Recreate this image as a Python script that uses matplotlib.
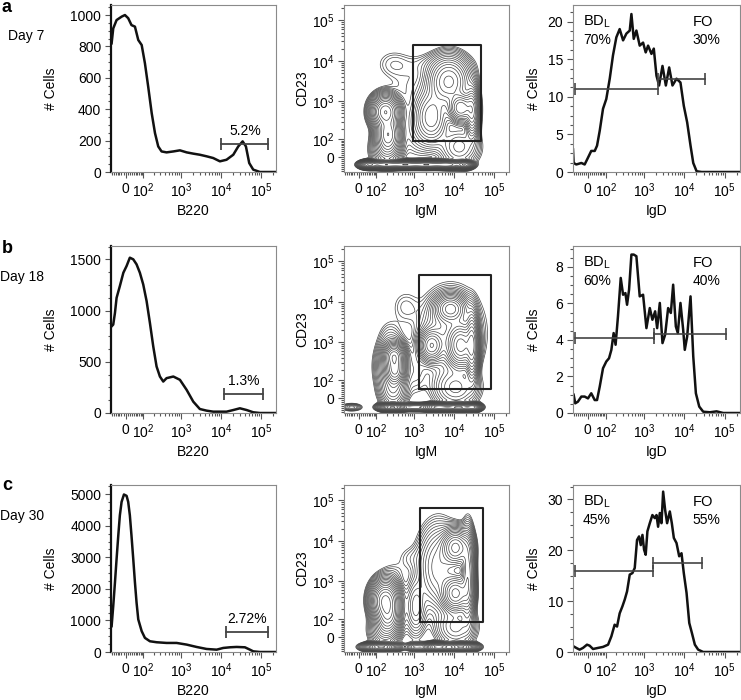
import numpy as np
import matplotlib
matplotlib.use("Agg")
import matplotlib.pyplot as plt
from matplotlib.ticker import FixedLocator, AutoMinorLocator, NullFormatter

plt.rcParams['font.family'] = ['Liberation Sans', 'DejaVu Sans']
plt.rcParams['mathtext.fontset'] = 'custom'
plt.rcParams['mathtext.rm'] = 'Liberation Sans'
plt.rcParams['mathtext.it'] = 'Liberation Sans:italic'
plt.rcParams['mathtext.bf'] = 'Liberation Sans:bold'
plt.rcParams['font.size'] = 10

W = 82.0            # linear width of the biexponential-like axis
LIM = (-78, 2.4e5)  # fluorescence range shown

days = ['Day 7', 'Day 18', 'Day 30']
panel_letters = ['a', 'b', 'c']

# ---- B220 histograms (column 1) ----
b220_x = [
    [-74, -64, -45, -19, -3.5, 12, 28, 46, 65, 87, 111, 139, 175, 215, 262, 320, 430, 639, 936, 1385,
     2025, 2960, 4370, 6400, 9430, 13800, 20400, 27200, 35000, 42300, 51200, 64500, 95000, 240000],
    [-74, -64, -54, -45, -28, -11, 4.4, 20, 37, 55, 75, 98, 125, 156, 193, 237, 290, 354, 430, 639,
     936, 1385, 2025, 2960, 4370, 6400, 9430, 13800, 20400, 29900, 44100, 64500, 95000, 240000],
    [-74, -64, -54, -45, -36, -28, -19.5, -8.2, 4.4, 12, 20, 28, 37, 46, 55, 65, 87, 111, 156, 237,
     430, 773, 1385, 2450, 4370, 7810, 11400, 16800, 24700, 39900, 53300, 64500, 95000, 240000],
]
b220_y = [
    [820, 915, 968, 990, 1000, 980, 936, 926, 841, 809, 693, 545, 375, 248, 163, 131, 125, 131, 138, 125,
     117, 110, 100, 89, 68, 78, 110, 163, 195, 163, 57, 15, 0, 0],
    [846, 863, 977, 1124, 1239, 1369, 1435, 1516, 1500, 1451, 1369, 1255, 1092, 879, 650, 454, 356, 307, 340, 356,
     324, 225, 111, 39, 23, 13, 13, 13, 29, 46, 29, 7, 0, 0],
    [819, 1457, 2202, 2947, 3691, 4330, 4755, 4989, 4947, 4755, 4330, 3691, 2947, 2202, 1564, 1032, 660, 447, 340, 309,
     287, 287, 234, 160, 96, 74, 128, 149, 160, 149, 74, 21, 0, 0],
]
b220_ylim = [1064, 1630, 5290]
b220_yticks = [[0, 200, 400, 600, 800, 1000], [0, 500, 1000, 1500], [0, 1000, 2000, 3000, 4000, 5000]]
b220_gate = [(10300, 154000, 180), (11900, 115000, 186), (13100, 154000, 638)]
b220_pct = ['5.2%', '1.3%', '2.72%']

# ---- IgD histograms (column 3) ----
igd_x = [
    [-78, -74, -58, -31, -15, 0.6, 16, 33, 45, 60, 80, 103, 131, 162, 200, 245, 300, 365, 443, 488,
     558, 650, 787, 954, 1108, 1270, 1540, 1760, 2050, 2380, 2890, 3500, 4230, 5110, 6430, 8050, 9740,
     11800, 14300, 16700, 20200, 26800, 240000],
    [-74, -64, -49, -31, -15, 0.6, 16, 33, 45, 60, 80, 103, 125, 146, 169, 191, 221, 261, 300, 344,
     379, 426, 488, 558, 650, 787, 954, 1155, 1400, 1625, 1900, 2130, 2480, 2890, 3360, 3990, 4650,
     5310, 6190, 6930, 8050, 9400, 10300, 11800, 14300, 16700, 19400, 23500, 29500, 43200, 63100,
     92200, 240000],
    [-74, -58, -40, -23, -4, 8.4, 24.4, 50, 80, 117, 146, 180, 209, 245, 288, 331, 379, 443, 517, 591,
     675, 758, 836, 920, 1010, 1108, 1222, 1400, 1625, 1860, 2050, 2250, 2480, 2730, 3000, 3360, 3760,
     4390, 4920, 5520, 6430, 7490, 8550, 9740, 11400, 13300, 15500, 18300, 22100, 29500, 240000],
]
igd_y = [
    [3.0, 1.2, 1.0, 1.2, 1.0, 1.9, 2.8, 2.8, 3.5, 5.5, 8.4, 9.7, 12.4, 15.5, 17.9, 19.0, 17.5, 18.4, 18.8, 21.0,
     17.7, 18.8, 16.8, 17.2, 15.9, 16.8, 15.7, 16.4, 12.8, 11.5, 14.1, 11.5, 13.9, 11.5, 12.4, 11.9, 8.8,
     6.6, 3.5, 1.2, 0.1, 0, 0],
    [1.0, 0.53, 0.62, 0.9, 0.9, 0.8, 1.08, 0.71, 0.71, 1.45, 2.45, 2.82, 3.0, 3.46, 4.38, 3.74, 5.3, 7.4, 6.48, 6.57,
     5.93, 6.76, 8.68, 8.68, 8.59, 6.39, 6.48, 4.65, 5.75, 5.11, 5.57, 4.65, 6.03, 3.83, 4.29, 5.75, 5.48,
     7.03, 4.74, 4.38, 6.03, 4.56, 3.46, 4.19, 6.39, 3.1, 1.08, 0.35, 0.07, 0.04, 0.09, 0, 0],
    [1.1, 0.8, 0.46, 0.8, 1.44, 1.24, 0.59, 0.8, 1.0, 1.44, 3.07, 5.36, 5.0, 7.6, 8.95, 10.3, 11.9, 15.2, 15.5, 16.5,
     22.0, 22.7, 21.0, 23.0, 20.1, 19.1, 23.7, 25.3, 26.9, 26.3, 26.9, 24.6, 27.3, 25.3, 31.5, 27.9, 25.3,
     27.6, 25.3, 22.4, 21.4, 18.8, 19.4, 15.5, 11.6, 5.7, 3.7, 1.44, 0.46, 0, 0],
]
igd_ylim = [22.2, 9.15, 32.8]
igd_yticks = [[0, 5, 10, 15, 20], [0, 2, 4, 6, 8], [0, 10, 20, 30]]
bdl_gate = [(-68, 2250, 11.1), (-68, 1760, 4.1), (-68, 1690, 16.0)]
fo_gate = [(2250, 32400, 12.3), (1760, 107000, 4.34), (1690, 26800, 17.5)]
bdl_pct = ['70%', '60%', '45%']
fo_pct = ['30%', '40%', '55%']

# ---- IgM vs CD23 contour populations (column 2) ----
# each population: IgM centre, CD23 centre, spread x / y (asinh units), relative weight
pop_igm = [
    [52, 175, 607, 2025, 6724, 18280, 184, 217, 297, 14970, 7430, 28680, 2734, 3690,
     821, 1110, 195, 13545],
    [-34, 282, 1005, 4079, 13545, 30150, 313, 330, 268, 2734, 14970, 8214, 28680, 8214, 241,
     607, 1110, 297, 11090],
    [139, 1110, 4079, 14970, 184, 217, 11090, 11090, 22330, 4079, 297, 1110,
     821, 1110, 175, 11090],
]
pop_cd23 = [
    [-36, -36, -36, -36, -36, -36, 549, 139, 8214, 672, 3021, 549, 405, 8214,
     2238, 175, 34, 52],
    [-44, -44, -44, -44, -44, -44, 448, 195, 241, 821, 821, 6724, 821, 1832, 1356,
     7430, 175, 34, 52],
    [-48, -48, -48, -48, 330, 124, 6724, 496, 1356, 2238, 1450, 241,
     3690, 175, 34, 52],
]
pop_sx = [
    [0.25, 0.5, 0.5, 0.5, 0.5, 0.22, 0.4, 0.35, 0.6, 0.35, 0.6, 0.2, 0.5, 1.2,
     0.8, 0.5, 0.45, 0.6],
    [0.3, 0.35, 0.4, 0.45, 0.45, 0.2, 0.3, 0.28, 0.45, 0.35, 0.4, 0.45, 0.18, 0.9, 0.4,
     0.5, 0.4, 0.4, 0.7],
    [0.45, 0.3, 0.4, 0.4, 0.4, 0.35, 0.4, 0.4, 0.2, 0.6, 0.45, 0.3,
     0.5, 0.4, 0.45, 0.6],
]
pop_sy = [
    [0.11, 0.11, 0.11, 0.11, 0.11, 0.11, 0.45, 0.55, 0.5, 0.4, 0.7, 0.7, 0.8, 0.4,
     0.8, 0.9, 0.5, 0.6],
    [0.11, 0.11, 0.11, 0.11, 0.11, 0.11, 0.35, 0.4, 0.8, 0.45, 0.6, 0.4, 0.9, 1.2, 0.6,
     0.6, 0.8, 0.5, 0.6],
    [0.12, 0.12, 0.12, 0.12, 0.55, 0.5, 0.5, 0.5, 1.2, 1.2, 0.45, 0.8,
     0.45, 1.0, 0.5, 0.6],
]
pop_w = [
    [1.0, 1.0, 1.0, 1.0, 1.0, 1.0, 0.8, 0.6, 0.012, 0.8, 0.4, 0.5, 0.2, 0.012,
     0.01, 0.015, 0.1, 0.08],
    [0.05, 1.2, 0.15, 1.0, 1.2, 0.8, 0.7, 0.6, 0.15, 0.35, 0.7, 0.4, 0.6, 0.1, 0.012,
     0.012, 0.015, 0.1, 0.08],
    [1.2, 0.1, 1.0, 1.2, 0.9, 0.5, 0.7, 0.7, 0.45, 0.15, 0.01, 0.05,
     0.01, 0.015, 0.1, 0.08],
]
gate_igm = [(930, 48700), (1300, 86900), (1440, 53800)]
gate_cd23 = [(84, 24700), (45, 46300), (81, 65100)]

# ---- layout (pixels of the 741x700 figure) ----
col_left = [111, 344, 573]
col_width = [165, 165, 167]
row_top = [5, 246, 485]
row_bottom = [172, 413, 652]
FW, FH = 741, 700

major = [0, 1e2, 1e3, 1e4, 1e5]
major_lbl = ['0', r'10$^2$', r'10$^3$', r'10$^4$', r'10$^5$']
minor = ([-70, -60, -50, -40, -30, -20, -10] + [10, 20, 30, 40, 50, 60, 70, 80, 90]
         + [k * 10 ** e for e in (2, 3, 4) for k in range(2, 10)] + [2e5])

fig = plt.figure(figsize=(FW / 100, FH / 100), dpi=100)


def make_ax(r, c):
    ax = fig.add_axes([col_left[c] / FW, 1 - row_bottom[r] / FH,
                       col_width[c] / FW, (row_bottom[r] - row_top[r]) / FH])
    for s in ax.spines.values():
        s.set_color('#8a8a8a')
        s.set_linewidth(0.8)
    ax.tick_params(which='both', direction='out', color='#555555', width=0.8, labelsize=10, pad=3)
    ax.tick_params(which='major', length=4)
    ax.tick_params(which='minor', length=2)
    return ax


def log_axis(axis):
    axis.set_major_locator(FixedLocator(major))
    axis.set_ticklabels(major_lbl)
    axis.set_minor_locator(FixedLocator(minor))
    axis.set_minor_formatter(NullFormatter())


def gate_mid(ax, x0, x1):
    t = ax.xaxis.get_transform()
    m = 0.5 * (t.transform([x0])[0] + t.transform([x1])[0])
    return t.inverted().transform([m])[0]


u = np.linspace(np.arcsinh(LIM[0] / W), np.arcsinh(LIM[1] / W), 260)
U, V = np.meshgrid(u, u)
GX, GY = W * np.sinh(U), W * np.sinh(V)

letter_base = [12, 253, 490]
for r in range(3):
    fig.text(2 / FW, 1 - letter_base[r] / FH, panel_letters[r], fontsize=13, fontweight='bold',
             ha='left', va='baseline')
    fig.text(44 / FW, 1 - (row_top[r] + 31) / FH, days[r], fontsize=10, ha='right', va='center')

    # B220 histogram
    ax = make_ax(r, 0)
    ax.set_xscale('asinh', linear_width=W)
    ax.plot(b220_x[r], b220_y[r], color='#111111', lw=1.8, solid_joinstyle='round')
    ax.set_xlim(*LIM)
    ax.set_ylim(0, b220_ylim[r])
    log_axis(ax.xaxis)
    ax.set_yticks(b220_yticks[r])
    ax.yaxis.set_minor_locator(AutoMinorLocator(4))
    ax.spines['left'].set_color('#111111')
    ax.spines['left'].set_linewidth(1.6)
    x0, x1, gy = b220_gate[r]
    ax.plot([x0, x1], [gy, gy], color='#444444', lw=1.3, marker='|', markersize=8, markeredgewidth=1.3)
    ax.annotate(b220_pct[r], (gate_mid(ax, x0, x1), gy), xytext=(0, 4), textcoords='offset points',
                ha='center', va='bottom', fontsize=10)
    ax.set_xlabel('B220')
    ax.set_ylabel('# Cells')
    ax.xaxis.set_label_coords(0.5, -0.19)
    ax.yaxis.set_label_coords(-0.32, 0.5)

    # IgM / CD23 contour
    ax = make_ax(r, 1)
    ax.set_xscale('asinh', linear_width=W)
    ax.set_yscale('asinh', linear_width=W)
    Z = np.zeros_like(U)
    for cx, cy, sx, sy, w in zip(pop_igm[r], pop_cd23[r], pop_sx[r], pop_sy[r], pop_w[r]):
        Z += w * np.exp(-0.5 * ((U - np.arcsinh(cx / W)) / sx) ** 2
                        - 0.5 * ((V - np.arcsinh(cy / W)) / sy) ** 2)
    Z /= Z.max()
    ax.contour(GX, GY, Z, levels=np.geomspace(0.005, 0.9, 20), colors='#444444', linewidths=0.5)
    gx0, gx1 = gate_igm[r]
    gy0, gy1 = gate_cd23[r]
    ax.plot([gx0, gx1, gx1, gx0, gx0], [gy0, gy0, gy1, gy1, gy0], color='#222222', lw=1.5)
    ax.set_xlim(*LIM)
    ax.set_ylim(*LIM)
    log_axis(ax.xaxis)
    log_axis(ax.yaxis)
    ax.set_xlabel('IgM')
    ax.set_ylabel('CD23')
    ax.xaxis.set_label_coords(0.5, -0.19)
    ax.yaxis.set_label_coords(-0.21, 0.5)

    # IgD histogram
    ax = make_ax(r, 2)
    ax.set_xscale('asinh', linear_width=W)
    ax.plot(igd_x[r], igd_y[r], color='#111111', lw=1.8, solid_joinstyle='round')
    ax.set_xlim(*LIM)
    ax.set_ylim(0, igd_ylim[r])
    log_axis(ax.xaxis)
    ax.set_yticks(igd_yticks[r])
    ax.yaxis.set_minor_locator(AutoMinorLocator(4))
    for g in (bdl_gate[r], fo_gate[r]):
        ax.plot([g[0], g[1]], [g[2], g[2]], color='#444444', lw=1.2, marker='|', markersize=8,
                markeredgewidth=1.2)
    ax.text(0.06, 0.90, r'BD$_{\mathrm{L}}$', transform=ax.transAxes, va='center', fontsize=10.5)
    ax.text(0.06, 0.79, bdl_pct[r], transform=ax.transAxes, va='center', fontsize=10)
    ax.text(0.715, 0.90, 'FO', transform=ax.transAxes, va='center', fontsize=10.5)
    ax.text(0.715, 0.79, fo_pct[r], transform=ax.transAxes, va='center', fontsize=10)
    ax.set_xlabel('IgD')
    ax.set_ylabel('# Cells')
    ax.xaxis.set_label_coords(0.5, -0.19)
    ax.yaxis.set_label_coords(-0.19, 0.5)

fig.savefig('out.png', dpi=100)
